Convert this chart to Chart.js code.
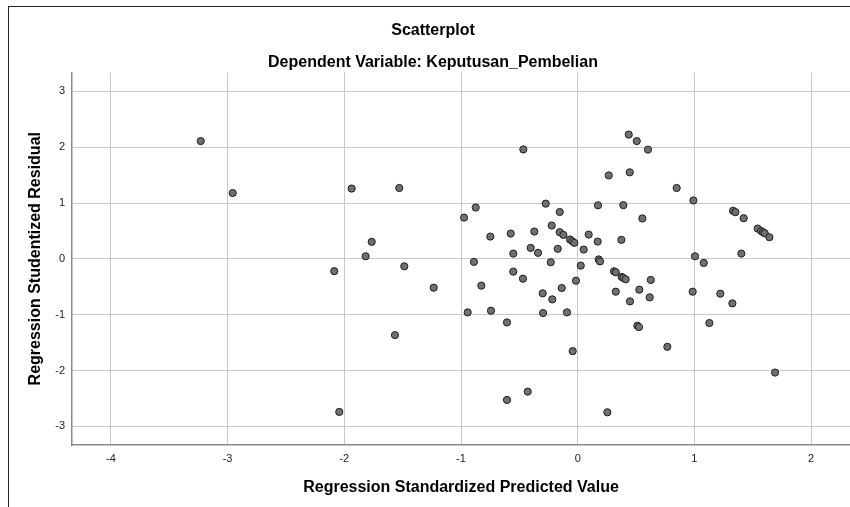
<!DOCTYPE html>
<html>
<head>
<meta charset="utf-8">
<script src="https://cdn.jsdelivr.net/npm/chart.js@4.4.1/dist/chart.umd.min.js"></script>
<style>
    body { margin: 0; background: #fff; }
    #wrap { position: relative; width: 850px; height: 507px; }
    #frame { position: absolute; left: 8px; top: 6px; right: 0; bottom: 0;
             border-left: 1px solid #222; border-top: 1px solid #222; pointer-events: none; }
</style>
</head>
<body>
<div id="wrap">
    <canvas id="scatter" width="850" height="507"></canvas>
    <div id="frame"></div>
</div>
<script>
// standardized predicted value (x) and studentized residual (y)
let predicted = [
    -3.23, -2.956, -1.937, -1.529, -0.466, -0.974, -0.874, -0.274, -0.154, 0.174,
    -1.765, -1.817, -0.749, -0.574, -0.372, -0.223, -0.154, -0.123, -0.066, -0.046,
    -0.029, 0.094, 0.171, -0.552, -0.403, -0.34, -0.171, 0.051, 0.437, 0.506,
    0.602, 0.266, 0.446, 0.848, 0.991, 0.391, 0.554, 1.331, 1.351, 1.422,
    1.542, 1.571, 1.588, 1.602, 1.642, 0.374, 0.18, 0.191, 1.005, 1.402,
    -2.086, -2.043, -1.486, -1.234, -1.566, -0.889, -0.826, -0.943, -0.743, -0.606,
    -0.552, -0.469, -0.231, -0.30, -0.218, -0.137, -0.297, -0.092, -0.015, 0.026,
    -0.043, -0.428, -0.606, 0.311, 0.326, 0.377, 0.391, 0.411, 0.626, 0.326,
    0.528, 0.448, 0.617, 0.511, 0.525, 0.768, 0.254, 1.08, 0.985, 1.222,
    1.325, 1.128, 1.691
];
let residual = [
    2.11, 1.18, 1.26, 1.27, 1.96, 0.74, 0.92, 0.99, 0.84, 0.96,
    0.305, 0.047, 0.40, 0.454, 0.49, 0.598, 0.478, 0.43, 0.347, 0.316,
    0.287, 0.436, 0.31, 0.095, 0.197, 0.108, 0.18, 0.167, 2.226, 2.11,
    1.957, 1.495, 1.55, 1.27, 1.047, 0.962, 0.724, 0.862, 0.837, 0.729,
    0.544, 0.5, 0.478, 0.46, 0.388, 0.341, -0.01, -0.045, 0.047, 0.095,
    -0.22, -2.74, -0.133, -0.515, -1.365, -0.054, -0.479, -0.958, -0.928, -1.138,
    -0.228, -0.354, -0.06, -0.617, -0.725, -0.521, -0.97, -0.958, -0.39, -0.12,
    -1.652, -2.377, -2.526, -0.222, -0.24, -0.323, -0.341, -0.366, -0.377, -0.587,
    -0.551, -0.761, -0.689, -1.197, -1.221, -1.574, -2.747, -0.072, -0.587, -0.623,
    -0.797, -1.149, -2.036
];

let xTicks = [-4, -3, -2, -1, 0, 1, 2];
let yTicks = [-3, -2, -1, 0, 1, 2, 3];

let points = predicted.map((x, i) => ({ x: x, y: residual[i] }));

let font = "'Liberation Sans', Arial, sans-serif";

let ctx = document.getElementById('scatter').getContext('2d');
let scatter_chart = new Chart(ctx, {
    type: 'scatter',
    data: {
        datasets: [{
            data: points,
            pointRadius: 3.6,
            pointHoverRadius: 3.6,
            backgroundColor: '#707070',
            borderColor: '#1e1e1e',
            borderWidth: 1
        }]
    },
    options: {
        responsive: false,
        animation: false,
        devicePixelRatio: 1,
        layout: { padding: { left: 16, right: 0, top: 0, bottom: 0 }, autoPadding: false },
        plugins: {
            legend: { display: false },
            tooltip: { enabled: false },
            title: {
                display: true,
                text: 'Scatterplot',
                color: '#000',
                font: { family: font, size: 16, weight: 'bold', lineHeight: 1.2 },
                padding: { top: 21, bottom: 13 }
            },
            subtitle: {
                display: true,
                text: 'Dependent Variable: Keputusan_Pembelian',
                color: '#000',
                font: { family: font, size: 16, weight: 'bold', lineHeight: 1.2 },
                padding: { top: 0, bottom: 0 }
            }
        },
        scales: {
            x: {
                type: 'linear',
                min: -4.333,
                max: 2.333,
                afterFit: function (scale) {
                    scale.height = 62;
                    scale.paddingLeft = 0;
                    scale.paddingRight = 0;
                },
                afterBuildTicks: function (scale) {
                    scale.ticks = xTicks.map(v => ({ value: v }));
                },
                grid: { color: '#c8c8c8', lineWidth: 1, drawTicks: false },
                border: { color: '#8a8a8a', width: 1.5 },
                ticks: {
                    color: '#222',
                    font: { family: font, size: 11 },
                    padding: 7
                },
                title: {
                    display: true,
                    text: 'Regression Standardized Predicted Value',
                    color: '#000',
                    font: { family: font, size: 16, weight: 'bold', lineHeight: 1.2 },
                    padding: { top: 0, bottom: 10 }
                }
            },
            y: {
                type: 'linear',
                min: -3.333,
                max: 3.34,
                afterFit: function (scale) {
                    scale.width = 56;
                    scale.paddingTop = 0;
                    scale.paddingBottom = 0;
                },
                afterBuildTicks: function (scale) {
                    scale.ticks = yTicks.map(v => ({ value: v }));
                },
                grid: { color: '#c8c8c8', lineWidth: 1, drawTicks: false },
                border: { color: '#8a8a8a', width: 1.5 },
                ticks: {
                    color: '#222',
                    font: { family: font, size: 11 },
                    padding: 7
                },
                title: {
                    display: true,
                    text: 'Regression Studentized Residual',
                    color: '#000',
                    font: { family: font, size: 16, weight: 'bold', lineHeight: 1.2 },
                    padding: { top: 10, bottom: 0 }
                }
            }
        }
    }
});
</script>
</body>
</html>
